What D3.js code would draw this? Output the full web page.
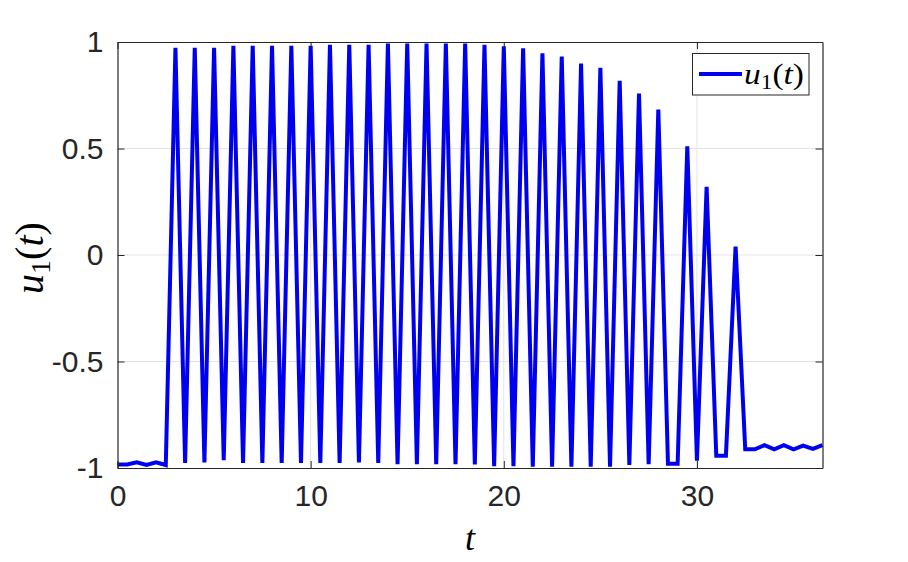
<!DOCTYPE html>
<html>
<head>
<meta charset="utf-8">
<script src="https://cdn.jsdelivr.net/npm/d3@7"></script>
<style>
  html, body { margin: 0; padding: 0; background: #fff; }
  svg { display: block; }
</style>
</head>
<body>
<svg id="chart" width="908" height="562"></svg>
<script>
// ---- data ----
const tValues = d3.range(0, 36.5 + 1e-9, 0.5);
const u1Values = [
  -0.983, -0.983, -0.973, -0.986, -0.973, -0.986,
   0.973, -0.976,  0.973, -0.974,  0.973, -0.963,
   0.982, -0.976,  0.982, -0.976,  0.982, -0.976,
   0.982, -0.976,  0.982, -0.976,  0.987, -0.976,
   0.987, -0.974,  0.987, -0.976,  0.993, -0.982,
   0.993, -0.982,  0.993, -0.982,  0.993, -0.982,
   0.993, -0.983,  0.987, -0.991,  0.980, -0.991,
   0.971, -0.994,  0.947, -0.994,  0.932, -0.994,
   0.899, -0.994,  0.879, -0.994,  0.818, -0.986,
   0.758, -0.982,  0.683, -0.980, -0.980,  0.510,
  -0.966,  0.320, -0.942, -0.942,  0.040, -0.912,
  -0.912, -0.893, -0.912, -0.893, -0.912, -0.895,
  -0.910, -0.893
];
const xTicks = [0, 10, 20, 30];
const yTicks = [-1, -0.5, 0, 0.5, 1];
const yTickLabels = ["-1", "-0.5", "0", "0.5", "1"];
const xDomain = [0, 36.5];
const yDomain = [-1, 1];

// ---- layout ----
const svg = d3.select("#chart");
const L = 117.5, R = 822.5, T = 42, B = 468;
const x = d3.scaleLinear().domain(xDomain).range([L, R]);
const y = d3.scaleLinear().domain(yDomain).range([B, T]);

// grid
const grid = svg.append("g").attr("stroke", "#e3e3e3").attr("stroke-width", 1);
xTicks.filter(d => d > xDomain[0] && d < xDomain[1]).forEach(d => {
  grid.append("line").attr("x1", x(d)).attr("x2", x(d)).attr("y1", T).attr("y2", B);
});
yTicks.filter(d => d > yDomain[0] && d < yDomain[1]).forEach(d => {
  grid.append("line").attr("x1", L).attr("x2", R).attr("y1", y(d)).attr("y2", y(d));
});

// line
const line = d3.line().x((d, i) => x(tValues[i])).y(d => y(d));
svg.append("path")
  .datum(u1Values)
  .attr("fill", "none")
  .attr("stroke", "#0000f0")
  .attr("stroke-width", 4)
  .attr("stroke-linejoin", "miter")
  .attr("stroke-miterlimit", 4)
  .attr("d", line);

// axes (ticks inward)
const tickFont = "'Liberation Sans', Arial, sans-serif";
const xAxis = svg.append("g").attr("transform", `translate(0,${B})`)
  .call(d3.axisBottom(x).tickValues(xTicks).tickSize(-7).tickPadding(17).tickSizeOuter(0));
const yAxis = svg.append("g").attr("transform", `translate(${L},0)`)
  .call(d3.axisLeft(y).tickValues(yTicks).tickFormat((d, i) => yTickLabels[i]).tickSize(-7).tickPadding(14).tickSizeOuter(0));
const xAxisTop = svg.append("g").attr("transform", `translate(0,${T})`)
  .call(d3.axisTop(x).tickValues(xTicks).tickSize(-7).tickFormat("").tickSizeOuter(0));
const yAxisRight = svg.append("g").attr("transform", `translate(${R},0)`)
  .call(d3.axisRight(y).tickValues(yTicks).tickSize(-7).tickFormat("").tickSizeOuter(0));
[xAxis, yAxis, xAxisTop, yAxisRight].forEach(g => {
  g.select(".domain").attr("stroke", "#262626").attr("stroke-width", 1.2);
  g.selectAll(".tick line").attr("stroke", "#262626").attr("stroke-width", 1);
  g.selectAll(".tick text").attr("fill", "#262626")
    .style("font-family", tickFont).style("font-size", "30px");
});

// axis labels
const serif = "'Liberation Serif', 'Times New Roman', serif";
svg.append("text")
  .attr("x", 470).attr("y", 550)
  .attr("text-anchor", "middle")
  .style("font-family", serif).style("font-style", "italic").style("font-size", "36px")
  .attr("fill", "#000")
  .text("t");

const yl = svg.append("text")
  .attr("transform", "translate(43,258) rotate(-90)")
  .attr("text-anchor", "middle")
  .style("font-family", serif).style("font-size", "40px")
  .attr("fill", "#000");
yl.append("tspan").style("font-style", "italic").text("u");
yl.append("tspan").attr("dy", 7).style("font-size", "28px").text("1");
yl.append("tspan").attr("dy", -7).text("(");
yl.append("tspan").style("font-style", "italic").text("t");
yl.append("tspan").text(")");

// legend
const lg = svg.append("g");
lg.append("rect").attr("x", 692.5).attr("y", 53.5).attr("width", 116.5).attr("height", 41.5)
  .attr("fill", "#fff").attr("stroke", "#262626").attr("stroke-width", 1);
lg.append("line").attr("x1", 699).attr("x2", 742).attr("y1", 74).attr("y2", 74)
  .attr("stroke", "#0000f0").attr("stroke-width", 4);
const lt = lg.append("text").attr("x", 744).attr("y", 84)
  .attr("textLength", 60).attr("lengthAdjust", "spacingAndGlyphs")
  .style("font-family", serif).style("font-size", "30px").attr("fill", "#000");
lt.append("tspan").style("font-style", "italic").text("u");
lt.append("tspan").attr("dy", 5).style("font-size", "21px").text("1");
lt.append("tspan").attr("dy", -5).text("(");
lt.append("tspan").style("font-style", "italic").text("t");
lt.append("tspan").text(")");
</script>
</body>
</html>
